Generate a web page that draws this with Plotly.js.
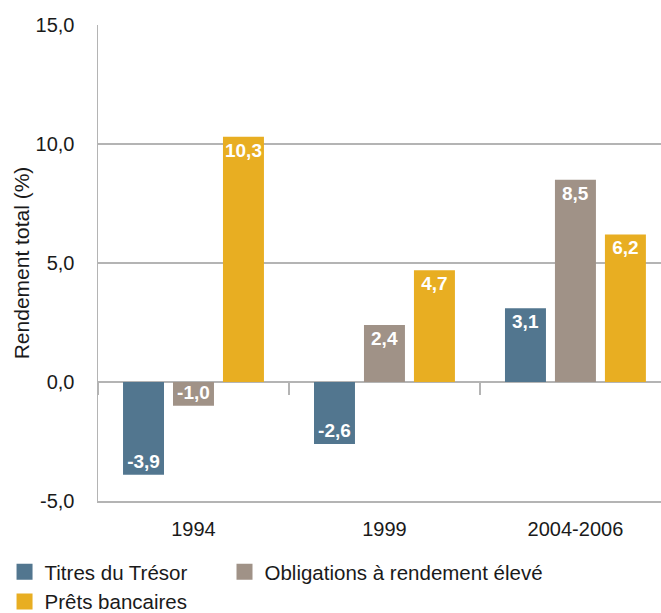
<!DOCTYPE html>
<html>
<head>
<meta charset="utf-8">
<script src="https://cdn.plot.ly/plotly-3.0.1.min.js"></script>
<style>html,body{margin:0;padding:0;background:#fff;}#chart{width:661px;height:613px;}</style>
</head>
<body>
<div id="chart"></div>
<script>
const categories = ["1994", "1999", "2004-2006"];
const seriesNames = ["Titres du Trésor", "Obligations à rendement élevé", "Prêts bancaires"];
const tresor = [-3.9, -2.6, 3.1];
const obligations = [-1.0, 2.4, 8.5];
const prets = [10.3, 4.7, 6.2];
const colors = ["#52768f", "#a09287", "#e8ae22"];
const yTicks = [-5, 0, 5, 10, 15];

const FONT = "'Liberation Sans', Arial, Helvetica, sans-serif";
const TXT = "#1a1a1a";
const fmt = v => v.toFixed(1).replace(".", ",");

const seriesValues = [tresor, obligations, prets];
const traces = seriesValues.map((vals, i) => ({
  type: "bar",
  x: categories,
  y: vals,
  name: seriesNames[i],
  marker: {color: colors[i]},
  text: vals.map(fmt),
  textposition: "inside",
  insidetextanchor: "end",
  constraintext: "none",
  textangle: 0,
  textfont: {family: FONT, size: 19, color: "#ffffff", weight: "bold"},
  showlegend: false,
  hoverinfo: "skip"
}));

// legend-only entries (larger square symbols), split over two legends to follow the reference layout
const legendOf = ["legend", "legend2", "legend"];
seriesNames.forEach((n, i) => {
  traces.push({
    type: "scatter", mode: "markers", x: [null], y: [null],
    name: n, legend: legendOf[i],
    marker: {symbol: "square", size: 16, color: colors[i]},
    showlegend: true, hoverinfo: "skip"
  });
});

// helper trace for the tick marks on the zero line
traces.push({type: "scatter", mode: "markers", x: categories, y: [null, null, null],
  xaxis: "x2", yaxis: "y", showlegend: false, hoverinfo: "skip", marker: {opacity: 0}});

const legendFont = {family: FONT, size: 20.5, color: TXT};
const layout = {
  width: 661, height: 613,
  margin: {l: 98, r: 0, t: 25, b: 112, autoexpand: false},
  paper_bgcolor: "#fff", plot_bgcolor: "#fff",
  font: {family: FONT, size: 20, color: TXT},
  separators: ",.",
  barmode: "group",
  bargap: 0.215,
  bargroupgap: 0.18,
  showlegend: true,
  legend: {
    orientation: "v", x: -0.166, xanchor: "left", y: -0.107, yanchor: "top",
    font: legendFont, traceorder: "normal", itemclick: false, tracegroupgap: 0,
    bgcolor: "rgba(0,0,0,0)"
  },
  legend2: {
    orientation: "v", x: 0.2247, xanchor: "left", y: -0.107, yanchor: "top",
    font: legendFont, traceorder: "normal", itemclick: false,
    bgcolor: "rgba(0,0,0,0)"
  },
  xaxis: {
    type: "category", categoryarray: categories,
    range: [-0.5, 2.448],
    showgrid: false, zeroline: false,
    showline: true, linecolor: "#b4b4b4", linewidth: 1.5,
    ticks: "", ticklabelstandoff: 9,
    tickfont: {family: FONT, size: 20, color: TXT},
    fixedrange: true
  },
  xaxis2: {
    type: "category", categoryarray: categories, matches: "x",
    overlaying: "x", anchor: "free", position: 0.25,
    showgrid: false, zeroline: false, showline: false,
    ticks: "outside", tickson: "boundaries", ticklen: 12, tickwidth: 1.5, tickcolor: "#b4b4b4",
    showticklabels: false
  },
  yaxis: {
    range: [-5, 15], tickvals: yTicks, ticktext: yTicks.map(fmt),
    showgrid: true, gridcolor: "#b4b4b4", gridwidth: 1.5,
    zeroline: true, zerolinecolor: "#b4b4b4", zerolinewidth: 1.5,
    showline: true, linecolor: "#b4b4b4", linewidth: 1.5,
    ticks: "", ticklabelstandoff: 18,
    tickfont: {family: FONT, size: 20, color: TXT},
    title: {text: "Rendement total (%)", font: {family: FONT, size: 21, color: TXT}, standoff: 0},
    fixedrange: true
  }
};

Plotly.newPlot("chart", traces, layout, {displayModeBar: false, staticPlot: true});
</script>
</body>
</html>
